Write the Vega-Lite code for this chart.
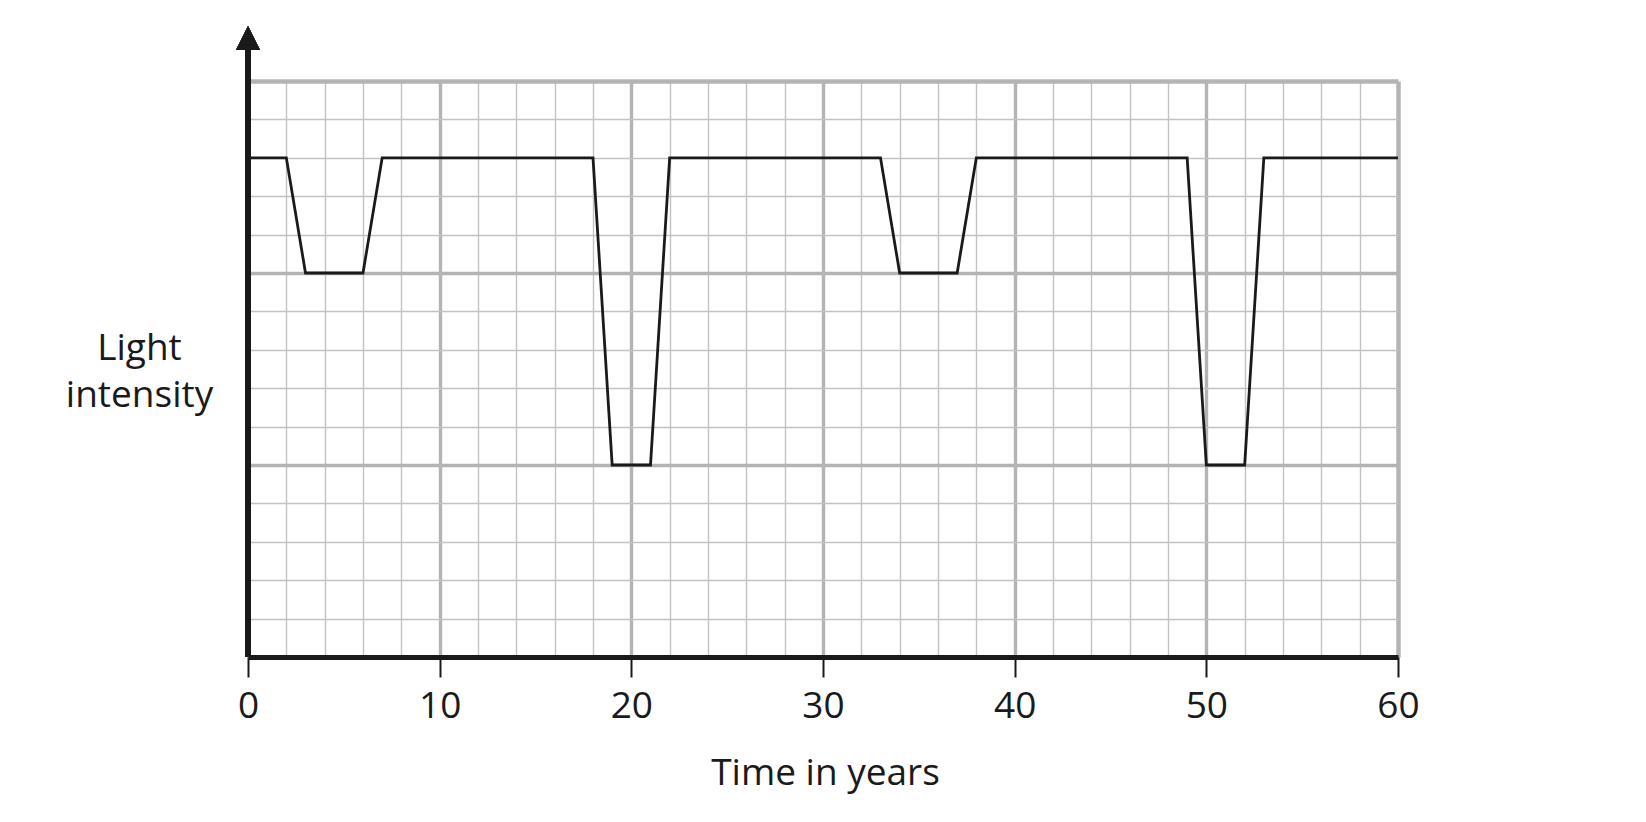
{
  "$schema": "https://vega.github.io/schema/vega-lite/v6.json",
  "autosize": {"type": "none"},
  "padding": {"left": 248, "top": 81, "right": 248, "bottom": 165},
  "width": 1150,
  "height": 576,
  "background": "white",
  "config": {"view": {"stroke": null}, "font": "Open Sans"},
  "data": {"values": [
    {"t": 0, "v": 26}, {"t": 2, "v": 26}, {"t": 3, "v": 20}, {"t": 6, "v": 20},
    {"t": 7, "v": 26}, {"t": 18, "v": 26}, {"t": 19, "v": 10}, {"t": 21, "v": 10},
    {"t": 22, "v": 26}, {"t": 33, "v": 26}, {"t": 34, "v": 20}, {"t": 37, "v": 20},
    {"t": 38, "v": 26}, {"t": 49, "v": 26}, {"t": 50, "v": 10}, {"t": 52, "v": 10},
    {"t": 53, "v": 26}, {"t": 60, "v": 26}
  ]},
  "layer": [
    {
      "mark": {"type": "line", "stroke": "#1a1a1a", "strokeWidth": 2.8, "clip": false},
      "encoding": {
        "x": {
          "field": "t", "type": "quantitative",
          "scale": {"domain": [0, 60], "nice": false, "zero": false},
          "axis": {
            "values": [0,1,2,3,4,5,6,7,8,9,10,11,12,13,14,15,16,17,18,19,20,21,22,23,24,25,26,27,28,29,30,31,32,33,34,35,36,37,38,39,40,41,42,43,44,45,46,47,48,49,50,51,52,53,54,55,56,57,58,59,60],
            "tickCount": 60,
            "grid": true,
            "gridColor": {"condition": {"test": "datum.value % 5 === 0", "value": "#b4b4b4"}, "value": "#c2c2c2"},
            "gridWidth": {"condition": [{"test": "datum.value === 60", "value": 4.5}, {"test": "datum.value % 5 === 0", "value": 3.4}], "value": 1.4},
            "gridOpacity": 1,
            "domain": true, "domainColor": "#1a1a1a", "domainWidth": 5,
            "ticks": true, "tickColor": "#1a1a1a", "tickWidth": 2, "tickSize": 20,
            "tickOpacity": {"condition": {"test": "datum.value % 10 === 0", "value": 1}, "value": 0},
            "labelExpr": "datum.value % 10 === 0 ? datum.label : ''",
            "labelFont": "Open Sans", "labelFontSize": 37, "labelColor": "#1a1a1a",
            "labelBaseline": "alphabetic", "labelPadding": 40, "labelFlush": false, "labelOverlap": false,
            "title": "Time in years",
            "titleFont": "Open Sans", "titleFontSize": 37, "titleFontWeight": "normal", "titleColor": "#1a1a1a",
            "titleBaseline": "alphabetic", "titleX": 577, "titleY": 127, "titleAlign": "center"
          }
        },
        "y": {
          "field": "v", "type": "quantitative",
          "scale": {"domain": [0, 30], "nice": false, "zero": false},
          "axis": {
            "values": [0,1,2,3,4,5,6,7,8,9,10,11,12,13,14,15,16,17,18,19,20,21,22,23,24,25,26,27,28,29,30],
            "tickCount": 30,
            "grid": true,
            "gridColor": {"condition": {"test": "datum.value % 5 === 0", "value": "#b4b4b4"}, "value": "#c2c2c2"},
            "gridWidth": {"condition": [{"test": "datum.value === 30", "value": 4.5}, {"test": "datum.value % 5 === 0", "value": 3.4}], "value": 1.4},
            "gridOpacity": 1,
            "domain": false, "ticks": false, "labels": false,
            "title": ["Light", "intensity"],
            "titleFont": "Open Sans", "titleFontSize": 37, "titleFontWeight": "normal", "titleColor": "#1a1a1a",
            "titleAngle": 0, "titleAlign": "center", "titleBaseline": "alphabetic",
            "titleX": -109, "titleY": 278, "titleLineHeight": 47.7
          }
        }
      }
    },
    {
      "mark": {"type": "rule", "stroke": "#1a1a1a", "strokeWidth": 5, "clip": false},
      "encoding": {
        "x": {"datum": 0, "type": "quantitative", "axis": {"title": "Time in years", "tickCount": 60, "values": [0,1,2,3,4,5,6,7,8,9,10,11,12,13,14,15,16,17,18,19,20,21,22,23,24,25,26,27,28,29,30,31,32,33,34,35,36,37,38,39,40,41,42,43,44,45,46,47,48,49,50,51,52,53,54,55,56,57,58,59,60]}},
        "y": {"datum": 0, "type": "quantitative", "axis": {"title": ["Light", "intensity"], "tickCount": 30, "values": [0,1,2,3,4,5,6,7,8,9,10,11,12,13,14,15,16,17,18,19,20,21,22,23,24,25,26,27,28,29,30]}},
        "y2": {"datum": 31.7}
      }
    },
    {
      "mark": {"type": "point", "shape": "M0,-1L1,1L-1,1Z", "filled": true, "fill": "#1a1a1a", "stroke": null, "opacity": 1, "size": 529, "clip": false},
      "encoding": {
        "x": {"datum": 0, "type": "quantitative", "axis": {"title": "Time in years", "tickCount": 60, "values": [0,1,2,3,4,5,6,7,8,9,10,11,12,13,14,15,16,17,18,19,20,21,22,23,24,25,26,27,28,29,30,31,32,33,34,35,36,37,38,39,40,41,42,43,44,45,46,47,48,49,50,51,52,53,54,55,56,57,58,59,60]}},
        "y": {"datum": 32.24, "type": "quantitative", "axis": {"title": ["Light", "intensity"], "tickCount": 30, "values": [0,1,2,3,4,5,6,7,8,9,10,11,12,13,14,15,16,17,18,19,20,21,22,23,24,25,26,27,28,29,30]}}
      }
    }
  ]
}
